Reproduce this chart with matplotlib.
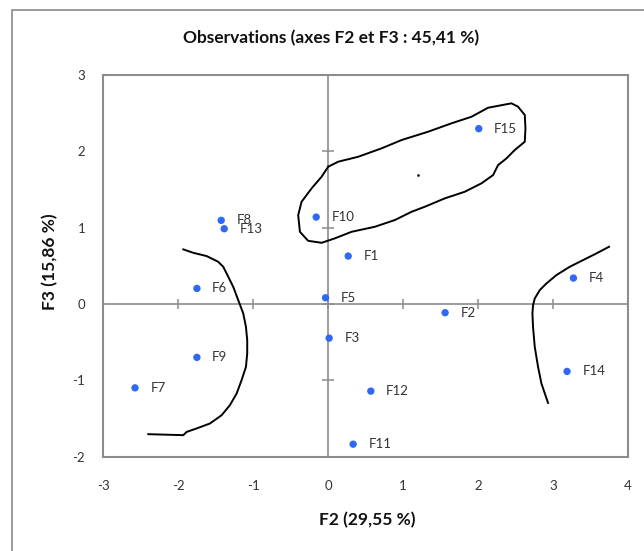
import matplotlib.pyplot as plt
from matplotlib.patches import Rectangle

plt.rcParams['font.family'] = ['Lato', 'DejaVu Sans']

# Observation coordinates on factors F2 / F3
labels = ['F1', 'F2', 'F3', 'F4', 'F5', 'F6', 'F7', 'F8', 'F9', 'F10',
          'F11', 'F12', 'F13', 'F14', 'F15']
f2 = [0.267, 1.56, 0.013, 3.272, -0.035, -1.751, -2.577, -1.427, -1.751, -0.16,
      0.333, 0.569, -1.387, 3.187, 2.009]
f3 = [0.628, -0.114, -0.447, 0.34, 0.082, 0.204, -1.098, 1.096, -0.699, 1.139,
      -1.836, -1.141, 0.986, -0.883, 2.297]

xticks = [-3, -2, -1, 0, 1, 2, 3, 4]
yticks = [-2, -1, 0, 1, 2, 3]

# Hand-drawn group outlines
blob_x = [0.0, 0.133, 0.4, 0.712, 0.979, 1.333, 1.645, 1.912, 2.133, 2.445,
          2.533, 2.623, 2.632, 2.623, 2.489, 2.379, 2.267, 2.2, 2.045, 1.823,
          1.556, 1.289, 1.112, 0.889, 0.623, 0.312, 0.089, -0.088, -0.267,
          -0.377, -0.4, -0.355, -0.221, -0.088, 0.0]
blob_y = [1.798, 1.864, 1.929, 2.039, 2.148, 2.257, 2.367, 2.453, 2.571, 2.629,
          2.585, 2.476, 2.301, 2.126, 2.017, 1.908, 1.82, 1.689, 1.581, 1.471,
          1.384, 1.274, 1.208, 1.1, 1.012, 0.946, 0.86, 0.802, 0.828,
          0.946, 1.165, 1.339, 1.515, 1.667, 1.798]
left_x = [-1.933, -1.8, -1.621, -1.467, -1.4, -1.333, -1.267, -1.2, -1.133, -1.097,
          -1.08, -1.08, -1.097, -1.155, -1.221, -1.311, -1.421, -1.577, -1.755,
          -1.888, -1.933, -2.4]
left_y = [0.716, 0.671, 0.628, 0.553, 0.488, 0.357, 0.226, 0.051, -0.123, -0.299,
          -0.473, -0.647, -0.823, -0.997, -1.172, -1.325, -1.456, -1.565, -1.63,
          -1.675, -1.718, -1.705]
right_x = [3.747, 3.579, 3.4, 3.223, 3.045, 2.912, 2.823, 2.756, 2.733, 2.725,
           2.733, 2.756, 2.8, 2.845, 2.933]
right_y = [0.75, 0.663, 0.575, 0.488, 0.379, 0.27, 0.182, 0.073, -0.015, -0.123,
           -0.299, -0.561, -0.823, -1.041, -1.295]

W, H = 644, 551
fig = plt.figure(figsize=(W / 100, H / 100), dpi=100)
ax = fig.add_axes([103.3 / W, 1 - 456.7 / H, 524.7 / W, 381.7 / H])

grey = '#8c8c8c'
ax.axhline(0, color=grey, lw=1.2, zorder=1)
ax.axvline(0, color=grey, lw=1.2, zorder=1)
ax.plot(xticks, [0] * len(xticks), ls='none', marker='|', ms=7, mew=1.1, color=grey, zorder=1)
ax.plot([0] * len(yticks), yticks, ls='none', marker='_', ms=8, mew=1.1, color=grey, zorder=1)

for cx, cy in [(blob_x, blob_y), (left_x, left_y), (right_x, right_y)]:
    ax.plot(cx, cy, color='black', lw=1.4, zorder=2, solid_joinstyle='round')
ax.plot([1.192], [1.689], ls='none', marker='s', ms=0.8, color='black')

ax.scatter(f2, f3, s=28, color='#2f68f5', edgecolors='none', zorder=3)
for lab, x, y in zip(labels, f2, f3):
    ax.annotate(lab, (x, y), xytext=(11, 0), textcoords='offset points',
                va='center', ha='left', fontsize=9.5, color='#333333')

ax.set_xlim(-3, 4)
ax.set_ylim(-2, 3)
ax.set_xticks(xticks)
ax.set_yticks(yticks)
ax.set_xticklabels([str(t) for t in xticks])
ax.set_yticklabels([str(t) for t in yticks])
ax.tick_params(axis='both', length=0, labelsize=9.5, colors='#333333')
ax.tick_params(axis='x', pad=17)
ax.tick_params(axis='y', pad=13)
for sp in ax.spines.values():
    sp.set_color(grey)
    sp.set_linewidth(1.5)

fig.text(331 / W, 1 - 38 / H, 'Observations (axes F2 et F3 : 45,41 %)',
         ha='center', va='center', fontsize=12.5, fontweight='bold', color='#111111')
fig.text(367 / W, 1 - 520 / H, 'F2 (29,55 %)', ha='center', va='center',
         fontsize=12.5, fontweight='bold', color='#111111')
fig.text(50 / W, 1 - 262 / H, 'F3 (15,86 %)', ha='center', va='center', rotation=90,
         fontsize=12.5, fontweight='bold', color='#111111')

# chart area border
fig.add_artist(Rectangle((12 / W, -0.1), 2, 1.1 - 10 / H, transform=fig.transFigure,
                         fill=False, edgecolor='#8a8a8a', lw=1.2))

fig.savefig('out.png', dpi=100)
